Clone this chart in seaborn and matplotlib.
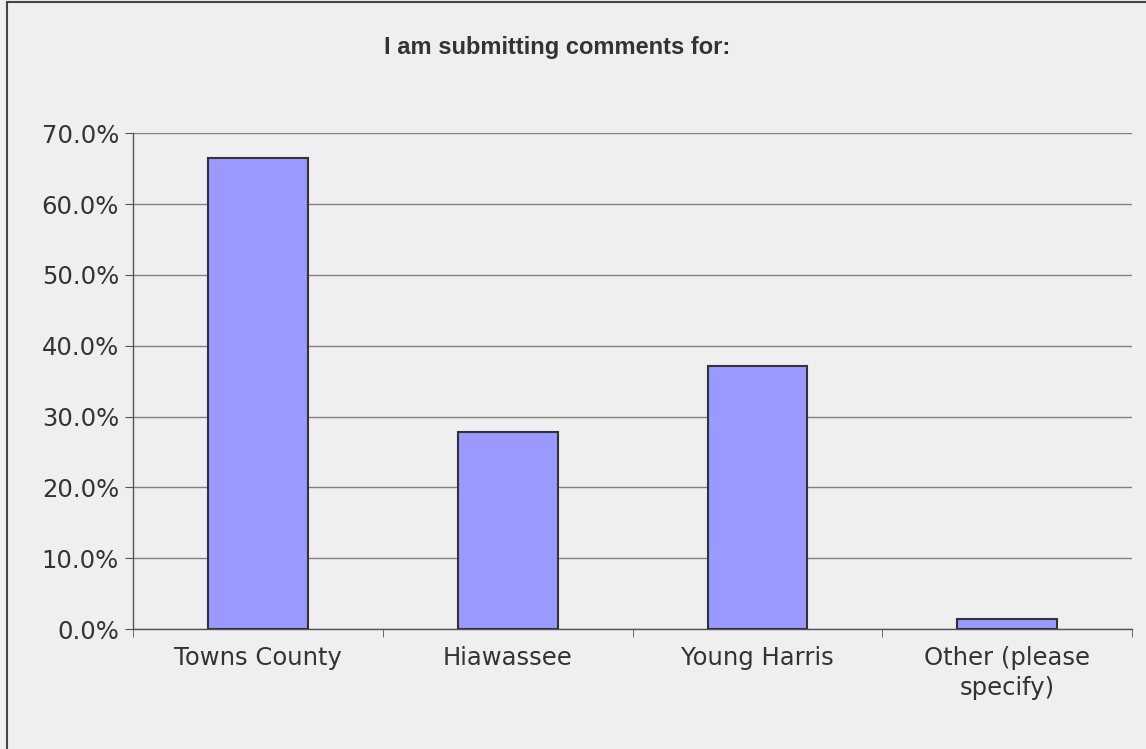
import matplotlib
matplotlib.use("Agg")
from matplotlib import pyplot as plt
from matplotlib.ticker import PercentFormatter, FixedLocator
import seaborn as sns
import pandas as pd

categories = ['Towns County', 'Hiawassee', 'Young Harris', 'Other (please\nspecify)']
percentages = [66.5, 27.9, 37.1, 1.4]

df = pd.DataFrame({'category': categories, 'pct': percentages})

sns.set_style('white')
plt.rcParams['font.family'] = ['DejaVu Sans']

bg = '#efefef'
fig = plt.figure(figsize=(11.46, 7.49), dpi=100, facecolor=bg)
ax = fig.add_axes([0.116, 0.160, 0.872, 0.662])
ax.set_facecolor(bg)

sns.barplot(data=df, x='category', y='pct', color='#9999ff', width=0.4,
            edgecolor='#333333', linewidth=1.5, saturation=1, ax=ax, zorder=3)

ax.set_ylim(0, 70)
ax.set_yticks(range(0, 71, 10))
ax.yaxis.set_major_formatter(PercentFormatter(decimals=1))
ax.grid(axis='y', color='#808080', linewidth=1, zorder=0)
ax.set_axisbelow(True)
ax.set_xlim(-0.5, len(categories) - 0.5)

for side in ['top', 'right']:
    ax.spines[side].set_visible(False)
for side in ['left', 'bottom']:
    ax.spines[side].set_color('#555555')
    ax.spines[side].set_linewidth(1)

ax.tick_params(axis='y', length=6, color='#555555', labelsize=17.5, labelcolor='#333333', left=True, pad=4)
ax.tick_params(axis='x', length=0, labelsize=17.5, labelcolor='#333333', pad=12)
for lbl in ax.get_xticklabels():
    lbl.set_linespacing(1.3)
# category divider ticks on the x axis
ax.xaxis.set_minor_locator(FixedLocator([i - 0.5 for i in range(len(categories) + 1)]))
ax.tick_params(axis='x', which='minor', length=6, color='#555555', bottom=True)

ax.set_xlabel('')
ax.set_ylabel('')

fig.text(0.486, 0.936, 'I am submitting comments for:', ha='center', va='center',
         fontsize=17, color='#333333', family='Liberation Sans', weight='bold')

# frame around the chart area
fig.patches.append(plt.Rectangle((0.006, -0.01), 1.1, 1.007, transform=fig.transFigure,
                                 fill=False, edgecolor='#444444', linewidth=1.5))

fig.savefig('out.png', dpi=100, facecolor=bg)
